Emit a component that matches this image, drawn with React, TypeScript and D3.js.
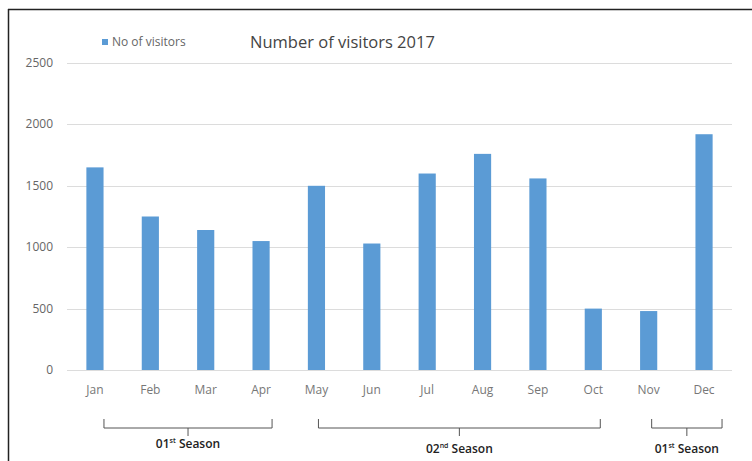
import { useEffect, useRef } from 'react';
import * as d3 from 'd3';

const months = ['Jan', 'Feb', 'Mar', 'Apr', 'May', 'Jun', 'Jul', 'Aug', 'Sep', 'Oct', 'Nov', 'Dec'];
const visitors = [1650, 1250, 1140, 1050, 1500, 1030, 1600, 1760, 1560, 500, 480, 1920];
const yTicks = [0, 500, 1000, 1500, 2000, 2500];
const seasonNames = ['01', '02', '01'];
const seasonSuffix = ['st', 'nd', 'st'];
const seasonStart = ['Jan', 'May', 'Nov'];
const seasonEnd = ['Apr', 'Oct', 'Dec'];

const App: React.FC = () => {
  const svgRef = useRef<SVGSVGElement | null>(null);

  useEffect(() => {
    if (svgRef.current === null) return;
    const width = 752;
    const height = 461;
    const svg = d3.select(svgRef.current);
    svg.selectAll('*').remove();
    svg.attr('width', width).attr('height', height);

    const font = "'Open Sans', sans-serif";

    svg.append('rect').attr('width', width).attr('height', height).attr('fill', '#fff');

    // çerçeve
    svg.append('line').attr('x1', 8.5).attr('x2', 8.5).attr('y1', 9).attr('y2', height)
      .attr('stroke', '#222').attr('stroke-width', 1.5);
    svg.append('line').attr('x1', 8).attr('x2', width).attr('y1', 9.5).attr('y2', 9.5)
      .attr('stroke', '#222').attr('stroke-width', 1.5);

    const x = d3.scaleBand<string>().domain(months).range([67, 732]).paddingInner(0.69).paddingOuter(0.35);
    const y = d3.scaleLinear().domain([0, 2500]).range([370, 63]);

    // ızgara
    svg.selectAll('.grid')
      .data(yTicks)
      .enter()
      .append('line')
      .attr('x1', 67)
      .attr('x2', 732)
      .attr('y1', (d) => Math.round(y(d)) + 0.5)
      .attr('y2', (d) => Math.round(y(d)) + 0.5)
      .attr('stroke', '#dcdcdc')
      .attr('stroke-width', 1);

    svg.selectAll('.ytick')
      .data(yTicks)
      .enter()
      .append('text')
      .attr('x', 53)
      .attr('y', (d) => y(d) + 4)
      .attr('text-anchor', 'end')
      .attr('fill', '#666')
      .style('font-family', font)
      .style('font-size', '12px')
      .text((d) => String(d));

    svg.selectAll('.bar')
      .data(visitors)
      .enter()
      .append('rect')
      .attr('x', (_, i) => x(months[i])!)
      .attr('y', (d) => y(d))
      .attr('width', x.bandwidth())
      .attr('height', (d) => y(0) - y(d))
      .attr('fill', '#5b9bd5');

    svg.selectAll('.month')
      .data(months)
      .enter()
      .append('text')
      .attr('x', (d) => x(d)! + x.bandwidth() / 2)
      .attr('y', 394)
      .attr('text-anchor', 'middle')
      .attr('fill', '#777')
      .style('font-family', font)
      .style('font-size', '12px')
      .text((d) => d);

    // legend + başlık
    svg.append('rect').attr('x', 102).attr('y', 39).attr('width', 6).attr('height', 6).attr('fill', '#5b9bd5');
    svg.append('text').attr('x', 112).attr('y', 46).attr('fill', '#666')
      .style('font-family', font).style('font-size', '12px').text('No of visitors');
    svg.append('text').attr('x', 250).attr('y', 48).attr('fill', '#444')
      .style('font-family', font).style('font-size', '16.5px').text('Number of visitors 2017');

    // sezon parantezleri (elle çizilmiş gibi küçük kaymalar)
    const nudgeL = [9, 2, 3];
    const nudgeR = [11, 7, 18];
    const labelY = [448, 453, 453];
    seasonNames.forEach((name, i) => {
      const x0 = x(seasonStart[i])! + x.bandwidth() / 2 + nudgeL[i];
      const x1 = x(seasonEnd[i])! + x.bandwidth() / 2 + nudgeR[i];
      const cx = (x0 + x1) / 2;
      const yTop = 419;
      const yMid = 428;
      svg.append('path')
        .attr('d', `M${x0},${yTop} L${x0},${yMid} L${x1},${yMid} L${x1},${yTop} M${cx},${yMid} L${cx},${yMid + 8}`)
        .attr('fill', 'none')
        .attr('stroke', '#555')
        .attr('stroke-width', 1);
      const t = svg.append('text')
        .attr('x', cx)
        .attr('y', labelY[i])
        .attr('text-anchor', 'middle')
        .attr('fill', '#222')
        .style('font-family', font)
        .style('font-size', '12px')
        .style('font-weight', '600');
      t.append('tspan').text(name);
      t.append('tspan').attr('dy', -5).style('font-size', '7px').text(seasonSuffix[i]);
      t.append('tspan').attr('dy', 5).text(' Season');
    });
  }, []);

  return <svg ref={svgRef} style={{ position: 'absolute', left: 0, top: 0 }}></svg>;
};

export default App;
